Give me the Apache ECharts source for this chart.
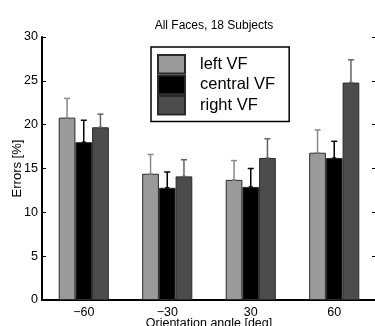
<!DOCTYPE html>
<html>
<head>
<meta charset="utf-8">
<script src="https://cdn.jsdelivr.net/npm/echarts@6/dist/echarts.min.js"></script>
<style>
  html, body { margin: 0; padding: 0; background: #fff; }
  #chart { width: 375px; height: 326px; }
</style>
</head>
<body>
<div id="chart"></div>
<script>
// orientation angles (deg)
const angles = ['\u221260', '\u221230', '30', '60']
const seriesNames = ['left VF', 'central VF', 'right VF']

// mean errors [%]
const leftVF = [20.8, 14.4, 13.7, 16.8]
const centralVF = [18.0, 12.8, 12.9, 16.2]
const rightVF = [19.7, 14.1, 16.2, 24.8]

// upper end of the error bars [%]
const leftErr = [23.0, 16.6, 15.9, 19.4]
const centralErr = [20.5, 14.6, 15.0, 18.1]
const rightErr = [21.2, 16.0, 18.4, 27.4]

const barColors = ['#9a9a9a', '#000000', '#4c4c4c']
const errColors = ['#8a8a8a', '#000000', '#636363']
const font = 'Liberation Sans, Arial, Helvetica, sans-serif'

const chart = echarts.init(document.getElementById('chart'))

const means = [leftVF, centralVF, rightVF]
const uppers = [leftErr, centralErr, rightErr]

function errSeries(k) {
  return {
    type: 'custom',
    name: seriesNames[k] + ' err',
    z: 5,
    silent: true,
    data: angles.map((a, i) => [i, means[k][i], uppers[k][i]]),
    renderItem(params, api) {
      const band = api.size([1, 0])[0]
      const off = (k - 1) * band * 0.2
      const base = api.coord([api.value(0), api.value(1)])
      const top = api.coord([api.value(0), api.value(2)])
      const x = base[0] + off
      const style = { stroke: errColors[k], lineWidth: 1.5 }
      return {
        type: 'group',
        children: [
          { type: 'line', shape: { x1: x, y1: base[1], x2: x, y2: top[1] }, style },
          { type: 'line', shape: { x1: x - 3, y1: top[1], x2: x + 3, y2: top[1] }, style },
          { type: 'line', shape: { x1: x - 2, y1: base[1], x2: x + 2, y2: base[1] }, style }
        ]
      }
    }
  }
}

const option = {
  animation: false,
  textStyle: { fontFamily: font },
  title: {
    text: 'All Faces, 18 Subjects',
    left: 209,
    textAlign: 'center',
    top: 15,
    textStyle: { fontSize: 12, fontWeight: 'normal', color: '#000', fontFamily: font }
  },
  legend: {
    data: seriesNames,
    orient: 'vertical',
    left: 151,
    top: 47,
    itemWidth: 27,
    itemHeight: 18.5,
    itemGap: 0,
    padding: [7, 14, 6, 6],
    icon: 'rect',
    backgroundColor: '#fff',
    borderColor: '#000',
    borderWidth: 1.5,
    borderRadius: 0,
    selectedMode: false,
    textStyle: { fontSize: 16.5, color: '#000', fontFamily: font, padding: [0, 0, 0, 10], lineHeight: 18.5 }
  },
  grid: { left: 42, right: -1, top: 37, bottom: 26, outerBoundsMode: 'none', containLabel: false },
  xAxis: [
    {
      type: 'category',
      data: angles,
      position: 'bottom',
      axisLine: { lineStyle: { color: '#000', width: 2 } },
      axisTick: { inside: true, alignWithLabel: true, length: 4, lineStyle: { color: '#000' } },
      axisLabel: { color: '#000', fontSize: 12.5, margin: 6 },
      name: 'Orientation angle [deg]',
      nameLocation: 'middle',
      nameGap: 17,
      nameMoveOverlap: false,
      nameTextStyle: { color: '#000', fontSize: 12.5 }
    },
    {
      type: 'category',
      data: angles,
      position: 'top',
      axisLine: { lineStyle: { color: '#000', width: 1.5 } },
      axisTick: { inside: true, alignWithLabel: true, length: 4, lineStyle: { color: '#000' } },
      axisLabel: { show: false }
    }
  ],
  yAxis: [
    {
      type: 'value',
      min: 0,
      max: 30,
      interval: 5,
      position: 'left',
      axisLine: { show: true, lineStyle: { color: '#000', width: 2 } },
      axisTick: { show: true, inside: true, length: 4, lineStyle: { color: '#000' } },
      axisLabel: { color: '#000', fontSize: 12.5, margin: 4 },
      splitLine: { show: false },
      name: 'Errors [%]',
      nameLocation: 'middle',
      nameGap: 18,
      nameRotate: 90,
      nameMoveOverlap: false,
      nameTextStyle: { color: '#000', fontSize: 13 }
    },
    {
      type: 'value',
      min: 0,
      max: 30,
      interval: 5,
      position: 'right',
      axisLine: { show: true, lineStyle: { color: '#000', width: 1.5 } },
      axisTick: { show: true, inside: true, length: 4, lineStyle: { color: '#000' } },
      axisLabel: { show: false },
      splitLine: { show: false }
    }
  ],
  series: [
    ...seriesNames.map((name, k) => ({
      type: 'bar',
      name,
      data: means[k],
      barWidth: '20%',
      barGap: '0%',
      itemStyle: { color: barColors[k], borderColor: '#2a2a2a', borderWidth: 1 }
    })),
    errSeries(0),
    errSeries(1),
    errSeries(2)
  ]
}

chart.setOption(option)
</script>
</body>
</html>
